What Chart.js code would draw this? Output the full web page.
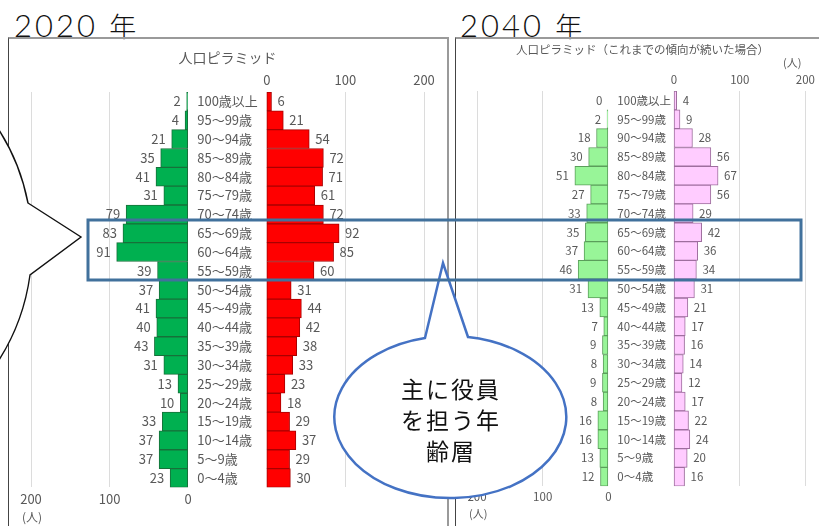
<!DOCTYPE html>
<html lang="ja">
<head>
<meta charset="utf-8">
<script src="https://cdn.jsdelivr.net/npm/chart.js@4/dist/chart.umd.min.js"></script>
<style>
  body { margin: 0; width: 819px; height: 526px; overflow: hidden; background: #fff; position: relative; }
  .abs { position: absolute; }
  .year { font-family: "Lato", "Noto Sans CJK JP", sans-serif; font-weight: 300; font-size: 31px; line-height: 30px; letter-spacing: 3px; color: #111; white-space: nowrap; }
  .year span { font-family: "Noto Sans CJK JP", sans-serif; font-size: 27px; letter-spacing: 0; }
  .frame { border-top: 2px solid #9a9a9a; border-right: 2px solid #9a9a9a; border-left: 1px solid #444; box-sizing: border-box; }
  .unit { font-family: "Noto Sans CJK JP", sans-serif; color: #595959; white-space: nowrap; }
  canvas { position: absolute; }
</style>
</head>
<body>
<div class="abs year" style="left:14px; top:10px">2020 <span>年</span></div>
<div class="abs year" style="left:460px; top:10px">2040 <span>年</span></div>

<div class="abs frame" style="left:8px; top:37px; width:441px; height:520px"></div>
<div class="abs frame" style="left:455px; top:37px; width:400px; height:520px"></div>

<canvas id="pyr2020" width="438" height="473" style="left:9px; top:38px"></canvas>
<canvas id="pyr2040" width="362" height="470" style="left:457px; top:38px"></canvas>

<div class="abs unit" style="left:22px; top:508px; font-size:12px">(人)</div>
<div class="abs unit" style="left:469px; top:505px; font-size:11px">(人)</div>
<div class="abs unit" style="left:783px; top:54px; font-size:11px">(人)</div>

<svg class="abs" style="left:0; top:0" width="819" height="526">
  <path d="M 28 203 L 81 237 L 30 275 A 182 200 0 1 1 28 203 Z" fill="#fff" stroke="#111" stroke-width="1.4"/>
  <path d="M 468 337 L 443 263 L 425 338 A 116 81 0 1 0 468 337 Z" fill="#fff" stroke="#4472C4" stroke-width="2.5" stroke-linejoin="miter"/>
  <rect x="88" y="220" width="713" height="60" fill="none" stroke="#41719C" stroke-width="3"/>
  <g font-family="Noto Sans CJK JP, sans-serif" font-size="23" fill="#111" text-anchor="middle" dominant-baseline="central" letter-spacing="2">
    <text x="451" y="388">主に役員</text>
    <text x="451" y="419">を担う年</text>
    <text x="451" y="450">齢層</text>
  </g>
</svg>

<script>
// age bands, oldest at the top
const ageBands = ['100歳以上', '95～99歳', '90～94歳', '85～89歳', '80～84歳', '75～79歳', '70～74歳',
  '65～69歳', '60～64歳', '55～59歳', '50～54歳', '45～49歳', '40～44歳', '35～39歳', '30～34歳',
  '25～29歳', '20～24歳', '15～19歳', '10～14歳', '5～9歳', '0～4歳'];

// 2020 (人)
const male2020 = [2, 4, 21, 35, 41, 31, 79, 83, 91, 39, 37, 41, 40, 43, 31, 13, 10, 33, 37, 37, 23];
const female2020 = [6, 21, 54, 72, 71, 61, 72, 92, 85, 60, 31, 44, 42, 38, 33, 23, 18, 29, 37, 29, 30];

// 2040 projection (人)
const male2040 = [0, 2, 18, 30, 51, 27, 33, 35, 37, 46, 31, 13, 7, 9, 8, 9, 8, 16, 16, 13, 12];
const female2040 = [4, 9, 28, 56, 67, 56, 29, 42, 36, 34, 31, 21, 17, 16, 14, 12, 17, 22, 24, 20, 16];

const axisTicks = [0, 100, 200];

// both sides share one x scale; the female side is shifted right by GAP
// so the age labels fit between the two halves
const GAP = 100;
const FONT = '"Noto Sans CJK JP", sans-serif';
const GREY = '#595959';

Chart.defaults.font.family = FONT;
Chart.defaults.color = GREY;

function labelPlugin(male, female, size) {
  return {
    id: 'pyramidLabels',
    afterDatasetsDraw(chart) {
      const { ctx, scales: { x, y } } = chart;
      ctx.save();
      ctx.font = size + 'px ' + FONT;
      ctx.fillStyle = GREY;
      ctx.textBaseline = 'middle';
      ageBands.forEach((band, i) => {
        const py = y.getPixelForValue(i);
        ctx.textAlign = 'left';
        ctx.fillText(band, x.getPixelForValue(0) + 9, py);
        ctx.textAlign = 'right';
        ctx.fillText(String(male[i]), x.getPixelForValue(-male[i]) - 6, py);
        ctx.textAlign = 'left';
        ctx.fillText(String(female[i]), x.getPixelForValue(GAP + female[i]) + 6, py);
      });
      ctx.restore();
    }
  };
}

function buildPyramid(id, male, female, look) {
  const maxTick = axisTicks[axisTicks.length - 1];
  const tickFont = { size: look.tickSize };
  const barStyle = {
    borderWidth: 1,
    borderSkipped: false,
    grouped: false,
    barPercentage: 1,
    categoryPercentage: 1
  };
  return new Chart(document.getElementById(id), {
    type: 'bar',
    data: {
      labels: ageBands,
      datasets: [
        Object.assign({
          label: '男',
          data: male.map(v => [-v, 0]),
          backgroundColor: look.maleFill,
          borderColor: look.maleLine
        }, barStyle),
        Object.assign({
          label: '女',
          data: female.map(v => [GAP, GAP + v]),
          backgroundColor: look.femaleFill,
          borderColor: look.femaleLine
        }, barStyle)
      ]
    },
    options: {
      indexAxis: 'y',
      responsive: false,
      animation: false,
      layout: { padding: look.padding },
      scales: {
        x: {
          type: 'linear',
          position: 'bottom',
          min: -maxTick,
          max: GAP + maxTick,
          afterBuildTicks: s => { s.ticks = axisTicks.map(v => ({ value: -v })).reverse().concat(axisTicks.slice(1).map(v => ({ value: GAP + v }))); },
          ticks: {
            autoSkip: false,
            maxRotation: 0,
            padding: 4,
            font: tickFont,
            color: GREY,
            callback: v => (v <= 0 ? String(-v) : '')
          },
          grid: {
            drawTicks: false,
            color: c => (c.tick && c.tick.value !== 0 ? '#dcdcdc' : 'rgba(0,0,0,0)')
          },
          border: { display: false }
        },
        xTop: {
          type: 'linear',
          axis: 'x',
          position: 'top',
          min: -maxTick,
          max: GAP + maxTick,
          afterBuildTicks: s => { s.ticks = axisTicks.map(v => ({ value: GAP + v })); },
          ticks: {
            autoSkip: false,
            maxRotation: 0,
            padding: 4,
            font: tickFont,
            color: GREY,
            callback: v => String(v - GAP)
          },
          grid: { display: false, drawTicks: false },
          border: { display: false }
        },
        y: { display: false }
      },
      plugins: {
        legend: { display: false },
        tooltip: { enabled: false },
        title: {
          display: true,
          text: look.title,
          color: GREY,
          font: { size: look.titleSize, weight: 'normal' },
          padding: look.titlePadding
        }
      }
    },
    plugins: [labelPlugin(male, female, look.labelSize)]
  });
}

buildPyramid('pyr2020', male2020, female2020, {
  title: '人口ピラミッド',
  titleSize: 14,
  titlePadding: { top: 11.6, bottom: 2 },
  tickSize: 13,
  labelSize: 13,
  padding: { left: 22, right: 23, top: 0, bottom: 0 },
  maleFill: '#00B050',
  maleLine: '#17703a',
  femaleFill: '#FF0000',
  femaleLine: '#a80000'
});

buildPyramid('pyr2040', male2040, female2040, {
  title: '人口ピラミッド（これまでの傾向が続いた場合）',
  titleSize: 11.5,
  titlePadding: { top: 5.1, bottom: 12.3 },
  tickSize: 11.5,
  labelSize: 11.5,
  padding: { left: 20, right: 11, top: 0, bottom: 0 },
  maleFill: '#98F598',
  maleLine: '#5b9e5b',
  femaleFill: '#FFCCFF',
  femaleLine: '#9e6e9e'
});
</script>
</body>
</html>
